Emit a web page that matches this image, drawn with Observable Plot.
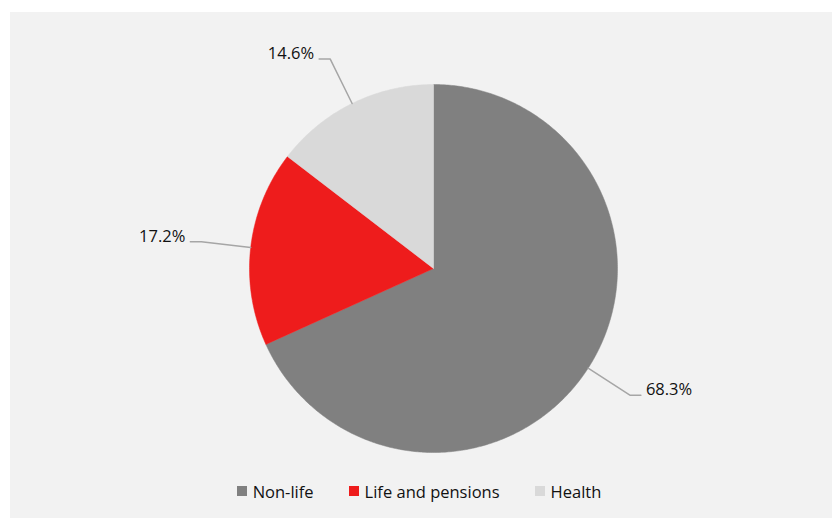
<!DOCTYPE html>
<html>
<head>
<meta charset="utf-8">
<script src="https://cdn.jsdelivr.net/npm/d3@7"></script>
<script src="https://cdn.jsdelivr.net/npm/@observablehq/plot@0.6"></script>
<style>
  html, body { margin: 0; padding: 0; background: #ffffff; }
  body { width: 832px; height: 519px; overflow: hidden; position: relative; font-family: "Open Sans", "Noto Sans", sans-serif; }
  #panel { position: absolute; left: 10px; top: 12px; width: 822px; height: 506px; background: #f2f2f2; }
  #chart svg { display: block; background: transparent; }
  #legend { display: flex; justify-content: center; align-items: center; gap: 35px; height: 22px; margin-top: 8px; padding-right: 4px; font-size: 16.5px; color: #111; }
  .item { display: flex; align-items: center; gap: 6px; }
  .sw { width: 10px; height: 10px; display: inline-block; }
</style>
</head>
<body>
<div id="panel">
  <div id="chart"></div>
  <div id="legend"></div>
</div>
<script>
const categories = ["Non-life", "Life and pensions", "Health"];
const shares = [68.3, 17.2, 14.6];
const colors = ["#808080", "#ee1c1c", "#d9d9d9"];

const W = 822, H = 460, R = 184;       // pixel radius
const cx = 423, cy = 256;              // pie centre in svg pixels

const total = d3.sum(shares);
// angles clockwise from 12 o'clock
let acc = 0;
const slices = categories.map((name, i) => {
  const a0 = acc / total * 2 * Math.PI;
  acc += shares[i];
  const a1 = acc / total * 2 * Math.PI;
  return {name, value: shares[i], color: colors[i], a0, a1, mid: (a0 + a1) / 2};
});

const P = a => ({x: Math.sin(a), y: Math.cos(a)});

// polygon outline of each slice (geometry derived from the shares)
const slicePolys = slices.map(s => {
  const n = Math.max(2, Math.ceil((s.a1 - s.a0) / 0.01));
  const pts = [{x: 0, y: 0}];
  for (let k = 0; k <= n; ++k) pts.push(P(s.a0 + (s.a1 - s.a0) * k / n));
  pts.push({x: 0, y: 0});
  return {s, pts};
});

// leader lines
const elbowR = 1.27, hLen = 11 / R;
const leaders = slices.map(s => {
  const rim = P(s.mid);
  const elbow = {x: rim.x * elbowR, y: rim.y * elbowR};
  const right = rim.x >= 0;
  const end = {x: elbow.x + (right ? hLen : -hLen), y: elbow.y};
  return {s, right, pts: [rim, elbow, end], end};
});

const marks = [];
for (const p of slicePolys) {
  marks.push(Plot.line(p.pts, {x: "x", y: "y", fill: p.s.color, stroke: p.s.color, strokeWidth: 0.5, curve: "linear"}));
}
for (const l of leaders) {
  marks.push(Plot.line(l.pts, {x: "x", y: "y", stroke: "#a6a6a6", strokeWidth: 1.5}));
  marks.push(Plot.text([l], {
    x: d => d.end.x, y: d => d.end.y,
    text: d => d.s.value.toFixed(1) + "%",
    textAnchor: l.right ? "start" : "end",
    dx: l.right ? 5 : -5, dy: -5,
    fontSize: 16.5, fill: "#111", fontFamily: "Open Sans, Noto Sans, sans-serif"
  }));
}

const chart = Plot.plot({
  width: W, height: H,
  margin: 0,
  style: {background: "transparent", overflow: "visible"},
  x: {domain: [-cx / R, (W - cx) / R], range: [0, W], axis: null},
  y: {domain: [-(H - cy) / R, cy / R], range: [H, 0], axis: null},
  marks
});
document.getElementById("chart").appendChild(chart);

const legend = document.getElementById("legend");
categories.forEach((c, i) => {
  const it = document.createElement("div");
  it.className = "item";
  const sw = document.createElement("span");
  sw.className = "sw";
  sw.style.background = colors[i];
  const t = document.createElement("span");
  t.textContent = c;
  it.appendChild(sw); it.appendChild(t);
  legend.appendChild(it);
});
</script>
</body>
</html>
